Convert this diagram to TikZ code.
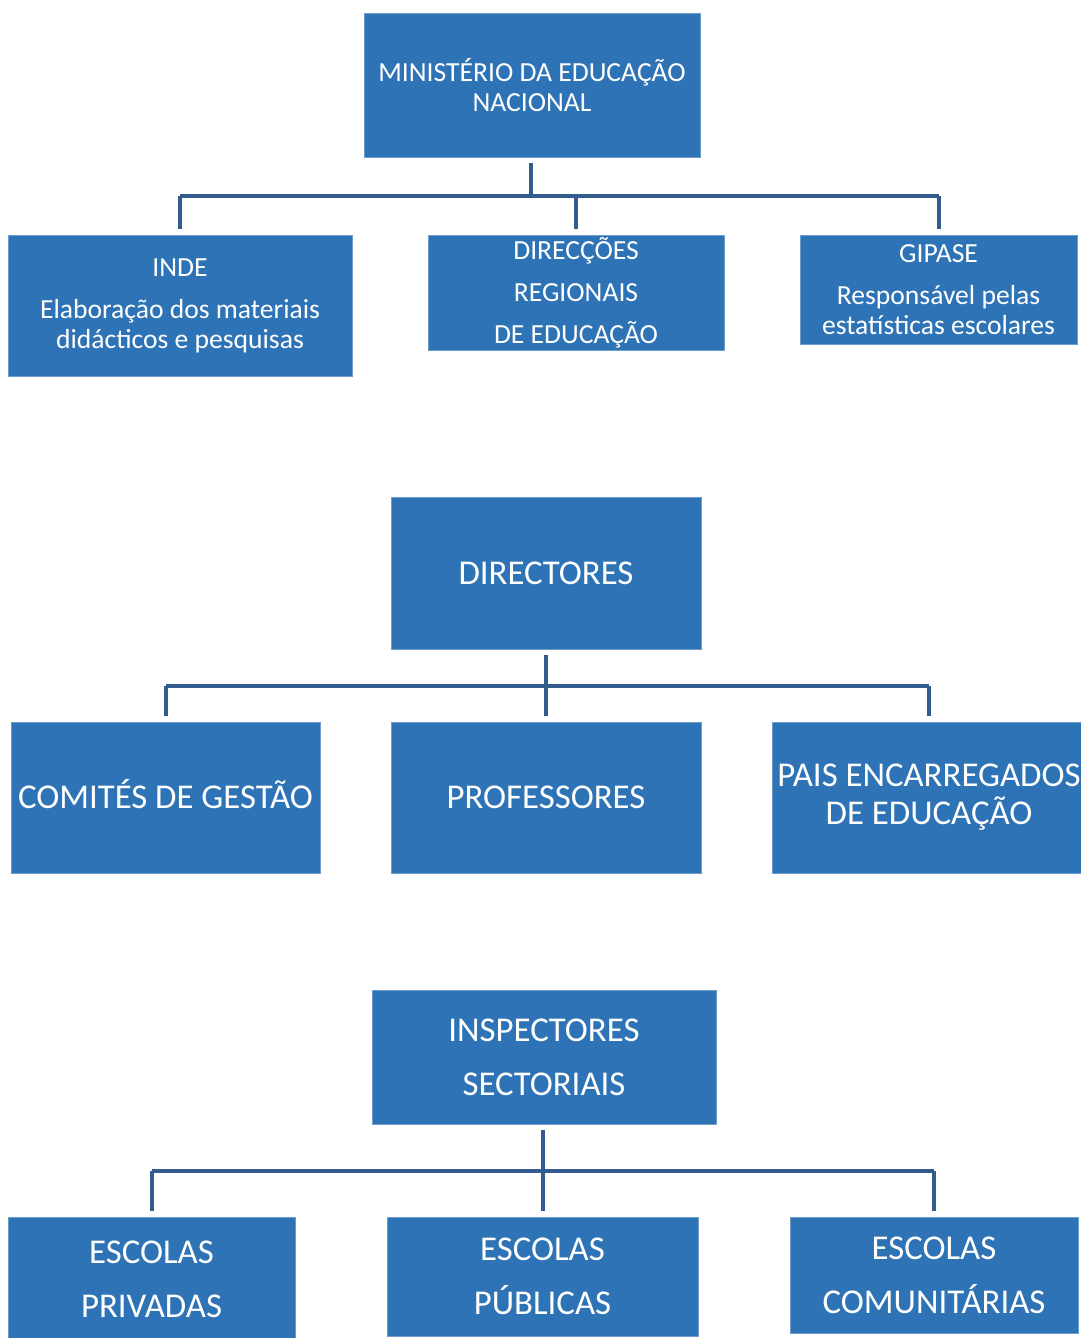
\documentclass[tikz,border=0pt]{standalone}
\usepackage{fontspec}
\setmainfont{Carlito}
\definecolor{boxblue}{HTML}{2E73B5}
\definecolor{lineblue}{HTML}{335C8E}
\tikzset{
  x=1pt, y=-1pt,
  box/.style={fill=boxblue, draw=boxblue!70!white, line width=0.6pt, text=white, align=center, inner sep=0pt},
  small/.style={font=\fontsize{27.6}{30}\selectfont},
  big/.style={font=\fontsize{34.8}{38}\selectfont},
  conn/.style={draw=lineblue, line width=4pt},
}
\begin{document}
\begin{tikzpicture}
\useasboundingbox (0,0) rectangle (1081,1338);
% level 1
\node[box, small, minimum width=336pt, minimum height=144pt] (mn) at (532,85) {MINISTÉRIO DA EDUCAÇÃO\\NACIONAL};
\node[box, small, minimum width=344pt, minimum height=141pt] (inde) at (180,305.5) {INDE\\[12pt]Elaboração dos materiais\\didácticos e pesquisas};
\node[box, small, minimum width=296pt, minimum height=115pt] (dre) at (576,292.5) {DIRECÇÕES\\[12pt]REGIONAIS\\[12pt]DE EDUCAÇÃO};
\node[box, small, minimum width=277pt, minimum height=109pt] (gip) at (938.5,289.5) {GIPASE\\[12pt]Responsável pelas\\estatísticas escolares};
\coordinate (j1) at (531,196);
\draw[conn] ([yshift=-6pt]mn.south -| j1) -- (j1);
\draw[conn] (inde.north |- j1) -- (gip.north |- j1);
\draw[conn] (inde.north |- j1) -- ([yshift=6pt]inde.north);
\draw[conn] (dre.north |- j1) -- ([yshift=6pt]dre.north);
\draw[conn] (gip.north |- j1) -- ([yshift=6pt]gip.north);
% level 2
\node[box, big, minimum width=310pt, minimum height=152pt] (dir) at (546,573) {DIRECTORES};
\node[box, big, minimum width=309pt, minimum height=151pt] (com) at (165.5,797.5) {\raisebox{0pt}[0.66em][0pt]{COMITÉS DE GESTÃO}};
\node[box, big, minimum width=310pt, minimum height=151pt] (prof) at (546,797.5) {\raisebox{0pt}[0.66em][0pt]{PROFESSORES}};
\node[box, big, minimum width=314pt, minimum height=151pt] (pais) at (929,797.5) {PAIS ENCARREGADOS\\DE EDUCAÇÃO};
\coordinate (j2) at (546,686);
\draw[conn] ([yshift=-6pt]dir.south) -- (j2);
\draw[conn] (com.north |- j2) -- (pais.north |- j2);
\draw[conn] (com.north |- j2) -- ([yshift=6pt]com.north);
\draw[conn] (prof.north |- j2) -- ([yshift=6pt]prof.north);
\draw[conn] (pais.north |- j2) -- ([yshift=6pt]pais.north);
% level 3
\node[box, big, minimum width=344pt, minimum height=134pt] (insp) at (544,1057) {INSPECTORES\\[16pt]SECTORIAIS};
\node[box, big, minimum width=287pt, minimum height=124pt] (priv) at (151.5,1279) {ESCOLAS\\[16pt]PRIVADAS};
\node[box, big, minimum width=311pt, minimum height=119pt] (pub) at (542.5,1276.5) {ESCOLAS\\[16pt]PÚBLICAS};
\node[box, big, minimum width=288pt, minimum height=116pt] (comu) at (934,1275) {ESCOLAS\\[16pt]COMUNITÁRIAS};
\coordinate (j3) at (543,1171);
\draw[conn] ([yshift=-6pt]insp.south -| j3) -- (j3);
\draw[conn] (priv.north |- j3) -- (comu.north |- j3);
\draw[conn] (priv.north |- j3) -- ([yshift=6pt]priv.north);
\draw[conn] (pub.north |- j3) -- ([yshift=6pt]pub.north);
\draw[conn] (comu.north |- j3) -- ([yshift=6pt]comu.north);
\end{tikzpicture}
\end{document}
